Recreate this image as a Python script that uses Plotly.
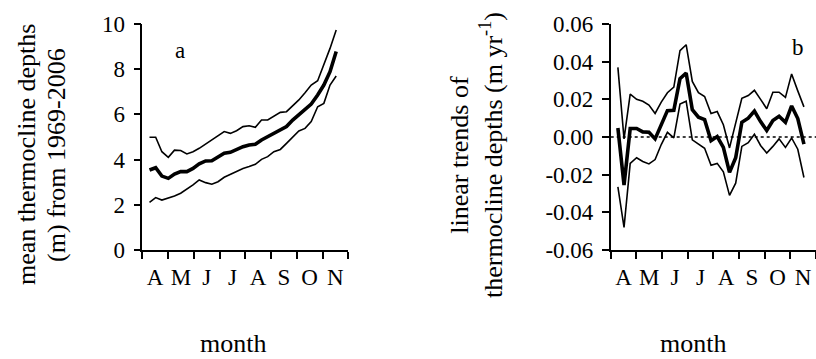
import plotly.graph_objects as go

# weekly sample positions, in months since 1 April (A=0..1, M=1..2, ...)
week_pos = [0.28, 0.52, 0.76, 1.01, 1.25, 1.49, 1.73, 1.97, 2.21, 2.46, 2.70,
            2.94, 3.18, 3.42, 3.66, 3.91, 4.15, 4.39, 4.63, 4.87, 5.11, 5.36,
            5.60, 5.84, 6.08, 6.32, 6.56, 6.81, 7.05, 7.29, 7.53]

month_labels = ["A", "M", "J", "J", "A", "S", "O", "N"]
month_centers = [0.5, 1.5, 2.5, 3.5, 4.5, 5.5, 6.5, 7.5]
month_bounds = [0, 1, 2, 3, 4, 5, 6, 7, 8]

# panel a: mean thermocline depth (m) with upper / lower bounds
upper_a = [4.99, 4.99, 4.35, 4.10, 4.42, 4.40, 4.25, 4.35, 4.50, 4.69, 4.90,
           5.09, 5.24, 5.16, 5.28, 5.46, 5.50, 5.43, 5.75, 5.75, 5.93, 6.09,
           6.12, 6.37, 6.64, 6.96, 7.30, 7.49, 8.19, 8.92, 9.73]
mean_a = [3.54, 3.64, 3.27, 3.17, 3.36, 3.47, 3.47, 3.61, 3.81, 3.94, 3.95,
          4.10, 4.28, 4.32, 4.45, 4.57, 4.65, 4.68, 4.87, 5.01, 5.16, 5.31,
          5.46, 5.75, 5.97, 6.19, 6.46, 6.86, 7.30, 7.89, 8.78]
lower_a = [2.11, 2.32, 2.21, 2.29, 2.39, 2.51, 2.68, 2.88, 3.10, 2.98, 2.91,
           3.02, 3.22, 3.36, 3.47, 3.61, 3.69, 3.79, 4.01, 4.13, 4.35, 4.45,
           4.72, 4.99, 5.27, 5.38, 5.68, 6.34, 6.49, 7.30, 7.70]

# panel b: linear trends (m/yr) with upper / lower bounds
upper_b = [0.037, -0.001, 0.0228, 0.020, 0.019, 0.017, 0.0125, 0.0185, 0.0235,
           0.0265, 0.0458, 0.049, 0.0295, 0.0235, 0.0215, 0.0125, 0.0135,
           0.0065, -0.0058, 0.007, 0.0205, 0.022, 0.0248, 0.020, 0.015, 0.0238,
           0.0238, 0.021, 0.0335, 0.0245, 0.016]
mean_b = [0.0048, -0.0255, 0.0045, 0.0045, 0.0027, 0.0025, -0.001, 0.0066,
          0.014, 0.0142, 0.031, 0.034, 0.0145, 0.0105, 0.0092, -0.002, 0.0002,
          -0.0055, -0.0188, -0.011, 0.0078, 0.010, 0.0138, 0.0082, 0.0035,
          0.0088, 0.011, 0.0078, 0.0165, 0.0098, -0.0038]
lower_b = [-0.0265, -0.048, -0.014, -0.011, -0.013, -0.0143, -0.012, -0.004,
           0.0025, -0.0005, 0.0175, 0.019, -0.0015, -0.004, -0.006, -0.015,
           -0.014, -0.0185, -0.031, -0.0245, -0.005, -0.003, 0.0015, -0.0045,
           -0.0085, -0.005, -0.001, -0.0055, -0.0005, -0.0065, -0.0215]

yticks_a = [0, 2, 4, 6, 8, 10]
yticks_b = [-0.06, -0.04, -0.02, 0.0, 0.02, 0.04, 0.06]
yticktext_b = ["-0.06", "-0.04", "-0.02", "0.00", "0.02", "0.04", "0.06"]

FONT = "Liberation Serif, Times New Roman, serif"
W, H = 816, 359

fig = go.Figure()

def add_lines(xa, ya, up, mn, lo):
    for ys, w in ((up, 1.6), (lo, 1.6), (mn, 3.6)):
        fig.add_trace(go.Scatter(x=week_pos, y=ys, mode="lines",
                                 line=dict(color="black", width=w),
                                 xaxis=xa, yaxis=ya, showlegend=False,
                                 hoverinfo="skip"))

add_lines("x", "y", upper_a, mean_a, lower_a)
add_lines("x2", "y2", upper_b, mean_b, lower_b)

ydom = [(H - 250) / H, (H - 24) / H]
tickfont = dict(family=FONT, size=23, color="black")

xcommon = dict(range=[0, 8], tickmode="array", tickvals=month_centers,
               ticktext=month_labels, ticks="", showline=True,
               linecolor="black", linewidth=1.6, showgrid=False,
               zeroline=False, ticklabelstandoff=6, automargin=False,
               tickfont=tickfont,
               minor=dict(tickmode="array", tickvals=month_bounds,
                          ticks="outside", ticklen=7, tickwidth=1.6,
                          tickcolor="black", showgrid=False))

ycommon = dict(tickmode="array", ticks="outside", ticklen=7, tickwidth=1.6,
               tickcolor="black", showline=True, linecolor="black",
               linewidth=1.6, showgrid=False, zeroline=False,
               ticklabelstandoff=4, automargin=False, tickfont=tickfont)

fig.update_layout(
    width=W, height=H, margin=dict(l=0, r=0, t=0, b=0, autoexpand=False),
    paper_bgcolor="white", plot_bgcolor="white",
    font=dict(family=FONT, color="black"),
    xaxis=dict(domain=[142.3 / W, 348.3 / W], anchor="y", **xcommon),
    xaxis2=dict(domain=[610.7 / W, 1.0], anchor="y2", **xcommon),
    yaxis=dict(domain=ydom, anchor="x", range=[0, 10], tickvals=yticks_a,
               **ycommon),
    yaxis2=dict(domain=ydom, anchor="x2", range=[-0.06, 0.06],
                tickvals=yticks_b, ticktext=yticktext_b, **ycommon),
)

# dotted zero line in panel b
fig.add_shape(type="line", xref="x2", yref="y2", x0=0, x1=8, y0=0, y1=0,
              line=dict(color="black", width=1.6, dash="3px,3px"))

ann_font = dict(family=FONT, size=26, color="black")
fig.add_annotation(text="mean thermocline depths",
                   textangle=-90, xref="paper", yref="paper",
                   x=26 / W, y=(H - 155) / H, showarrow=False,
                   xanchor="center", yanchor="middle", font=ann_font)
fig.add_annotation(text="(m) from 1969-2006",
                   textangle=-90, xref="paper", yref="paper",
                   x=56 / W, y=(H - 155) / H, showarrow=False,
                   xanchor="center", yanchor="middle", font=ann_font)
fig.add_annotation(text="linear trends of<br>thermocline depths (m yr<sup>-1</sup>)",
                   textangle=-90, xref="paper", yref="paper",
                   x=476 / W, y=(H - 155) / H, showarrow=False,
                   xanchor="center", yanchor="middle", font=ann_font)
fig.add_annotation(text="month", xref="paper", yref="paper",
                   x=233 / W, y=(H - 343) / H, showarrow=False,
                   xanchor="center", yanchor="middle", font=ann_font)
fig.add_annotation(text="month", xref="paper", yref="paper",
                   x=693 / W, y=(H - 343) / H, showarrow=False,
                   xanchor="center", yanchor="middle", font=ann_font)
fig.add_annotation(text="a", xref="paper", yref="paper",
                   x=180 / W, y=(H - 50) / H, showarrow=False,
                   xanchor="center", yanchor="middle",
                   font=dict(family=FONT, size=23, color="black"))
fig.add_annotation(text="b", xref="paper", yref="paper",
                   x=798 / W, y=(H - 48) / H, showarrow=False,
                   xanchor="center", yanchor="middle",
                   font=dict(family=FONT, size=23, color="black"))

fig.write_html("out.html",
               config={"displayModeBar": False},
               post_script="document.body.style.margin='0';"
                           "document.body.style.overflow='hidden';")
